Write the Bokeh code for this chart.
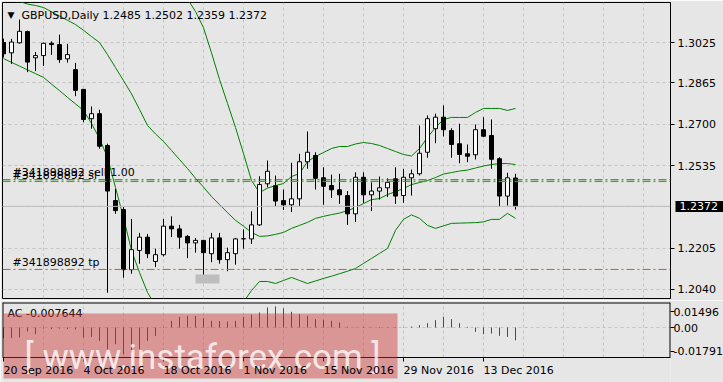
from bokeh.plotting import figure
from bokeh.layouts import column
from bokeh.models import (FixedTicker, Span, Label, ColumnDataSource, BoxAnnotation, LinearAxis)
from bokeh.core.properties import value
from bokeh.embed import file_html
from bokeh.resources import INLINE

# ---------------- data ----------------
symbol = "GBPUSD,Daily"
date_labels = ["20 Sep 2016", "4 Oct 2016", "18 Oct 2016", "1 Nov 2016",
               "15 Nov 2016", "29 Nov 2016", "13 Dec 2016"]
date_idx = [0, 10, 20, 30, 40, 50, 60]

opens = [1.3026, 1.2985, 1.3025, 1.3070, 1.2965, 1.2974, 1.3023, 1.3018, 1.2961, 1.2918,
         1.2839, 1.2722, 1.2742, 1.2615, 1.2395, 1.2359, 1.2119, 1.2196, 1.2249, 1.2152,
         1.2179, 1.2293, 1.2282, 1.2252, 1.2226, 1.2236, 1.2183, 1.2246, 1.2159, 1.2183,
         1.2242, 1.2242, 1.2298, 1.2462, 1.2454, 1.2395, 1.2378, 1.2402, 1.2550, 1.2575,
         1.2486, 1.2455, 1.2438, 1.2415, 1.2342, 1.2488, 1.2418, 1.2433, 1.2446, 1.2482,
         1.2415, 1.2486, 1.2502, 1.2588, 1.2682, 1.2728, 1.2675, 1.2622, 1.2582, 1.2578,
         1.2678, 1.2655, 1.2562, 1.2413, 1.2485]
highs = [1.3042, 1.3041, 1.3118, 1.3074, 1.2988, 1.3026, 1.3031, 1.3058, 1.3021, 1.2945,
         1.2840, 1.2771, 1.2758, 1.2622, 1.2442, 1.2369, 1.2322, 1.2266, 1.2262, 1.2203,
         1.2322, 1.2332, 1.2298, 1.2258, 1.2246, 1.2238, 1.2266, 1.2266, 1.2207, 1.2246,
         1.2280, 1.2352, 1.2492, 1.2555, 1.2495, 1.2439, 1.2546, 1.2582, 1.2671, 1.2588,
         1.2528, 1.2499, 1.2502, 1.2433, 1.2508, 1.2508, 1.2468, 1.2491, 1.2484, 1.2528,
         1.2522, 1.2519, 1.2695, 1.2735, 1.2742, 1.2775, 1.2684, 1.2702, 1.2619, 1.2699,
         1.2728, 1.2719, 1.2568, 1.2506, 1.2502]
lows = [1.2966, 1.2941, 1.3022, 1.2908, 1.2912, 1.2932, 1.2977, 1.2945, 1.2946, 1.2812,
        1.2708, 1.2682, 1.2602, 1.2027, 1.2342, 1.2087, 1.2103, 1.2143, 1.2165, 1.2129,
        1.2172, 1.2249, 1.2203, 1.2165, 1.2187, 1.2076, 1.2149, 1.2143, 1.2113, 1.2139,
        1.2203, 1.2222, 1.2294, 1.2448, 1.2373, 1.2358, 1.2349, 1.2373, 1.2522, 1.2439,
        1.2378, 1.2405, 1.2382, 1.2298, 1.2309, 1.2385, 1.2353, 1.2399, 1.2409, 1.2382,
        1.2386, 1.2415, 1.2495, 1.2566, 1.2624, 1.2651, 1.2566, 1.2544, 1.2548, 1.2559,
        1.2648, 1.2522, 1.2371, 1.2375, 1.2359]
closes = [1.2981, 1.3028, 1.3071, 1.2948, 1.2974, 1.3023, 1.3018, 1.2958, 1.2978, 1.2835,
          1.2719, 1.2742, 1.2612, 1.2433, 1.2355, 1.2119, 1.2199, 1.2249, 1.2183, 1.2179,
          1.2293, 1.2282, 1.2249, 1.2226, 1.2236, 1.2187, 1.2246, 1.2159, 1.2187, 1.2242,
          1.2243, 1.2298, 1.2459, 1.2512, 1.2393, 1.2378, 1.2402, 1.2550, 1.2588, 1.2484,
          1.2452, 1.2438, 1.2418, 1.2342, 1.2488, 1.2418, 1.2433, 1.2446, 1.2468, 1.2413,
          1.2488, 1.2502, 1.2584, 1.2722, 1.2728, 1.2678, 1.2619, 1.2579, 1.2572, 1.2678,
          1.2652, 1.2560, 1.2413, 1.2486, 1.2372]

bb_upper = [1.3450, 1.3449, 1.3448, 1.3443, 1.3446, 1.3445, 1.3438, 1.3430, 1.3423, 1.3415,
            1.3395, 1.3397, 1.3409, 1.3389, 1.3405, 1.3421, 1.3446, 1.3410, 1.3362, 1.3346,
            1.3312, 1.3255, 1.3220, 1.3200, 1.3150, 1.3085, 1.2985, 1.2879, 1.2783, 1.2687,
            1.2583, 1.2475, 1.2427, 1.2445, 1.2455, 1.2463, 1.2491, 1.2503, 1.2551, 1.2571,
            1.2587, 1.2603, 1.2611, 1.2611, 1.2621, 1.2627, 1.2623, 1.2615, 1.2603, 1.2591,
            1.2579, 1.2573, 1.2603, 1.2647, 1.2687, 1.2719, 1.2727, 1.2727, 1.2727, 1.2747,
            1.2763, 1.2763, 1.2763, 1.2755, 1.2763]
bb_middle = [1.3206, 1.3198, 1.3190, 1.3180, 1.3174, 1.3166, 1.3149, 1.3132, 1.3115, 1.3098,
             1.3075, 1.3050, 1.3026, 1.2978, 1.2926, 1.2874, 1.2821, 1.2759, 1.2695, 1.2661,
             1.2631, 1.2595, 1.2559, 1.2523, 1.2484, 1.2449, 1.2411, 1.2379, 1.2347, 1.2316,
             1.2293, 1.2268, 1.2252, 1.2254, 1.2260, 1.2268, 1.2284, 1.2296, 1.2308, 1.2324,
             1.2332, 1.2339, 1.2345, 1.2355, 1.2367, 1.2383, 1.2399, 1.2403, 1.2419, 1.2431,
             1.2443, 1.2459, 1.2467, 1.2475, 1.2487, 1.2501, 1.2507, 1.2513, 1.2517, 1.2525,
             1.2533, 1.2539, 1.2543, 1.2543, 1.2539]
bb_lower = [1.2962, 1.2947, 1.2932, 1.2917, 1.2902, 1.2887, 1.2860, 1.2834, 1.2807, 1.2781,
            1.2755, 1.2703, 1.2643, 1.2567, 1.2447, 1.2327, 1.2196, 1.2108, 1.2028, 1.1976,
            1.1950, 1.1935, 1.1925, 1.1920, 1.1920, 1.1925, 1.1935, 1.1945, 1.1960, 1.1975,
            1.1990, 1.2036, 1.2072, 1.2072, 1.2064, 1.2076, 1.2088, 1.2076, 1.2064, 1.2074,
            1.2084, 1.2093, 1.2103, 1.2113, 1.2124, 1.2144, 1.2164, 1.2184, 1.2204, 1.2276,
            1.2320, 1.2338, 1.2324, 1.2296, 1.2284, 1.2294, 1.2304, 1.2305, 1.2306, 1.2307,
            1.2310, 1.2320, 1.2320, 1.2344, 1.2324]

ac_values = [-0.0064, -0.0063, -0.0060, -0.0024, -0.0040, -0.0006, -0.0009, -0.0006, -0.0009, -0.0012,
             -0.0060, -0.0056, -0.0080, -0.0130, -0.0100, -0.0160, -0.0150, -0.0130, -0.0080, -0.0050,
             -0.0003, 0.0040, 0.0064, 0.0070, 0.0069, 0.0056, 0.0040, 0.0039, 0.0036, 0.0040,
             0.0064, 0.0076, 0.0090, 0.0120, 0.0126, 0.0115, 0.0094, 0.0080, 0.0070, 0.0050,
             0.0046, 0.0040, 0.0030, 0.0004, 0.0002, 0.0003, 0.0002, 0.0003, 0.0002, 0.0003,
             0.0002, 0.0006, 0.0014, 0.0026, 0.0044, 0.0064, 0.0050, 0.0026, 0.0004, -0.0026,
             -0.0040, -0.0036, -0.0050, -0.0056, -0.007644]

price_ticks = [1.3025, 1.2865, 1.2700, 1.2535, 1.2205, 1.2040]
grid_prices = [1.3025, 1.2865, 1.2700, 1.2535, 1.2370, 1.2205, 1.2040]
ac_max, ac_min = 0.01496, -0.01791

order_id = "#341898892"
sell_price, sl_price, tp_price = 1.2478, 1.2471, 1.2120
grey_box = dict(left=24.0, right=27.0, top=1.2100, bottom=1.2064)
watermark = "[  www.instaforex.com  ]"

# ---------------- style ----------------
BG = "#E6E6E6"
GRID = "#C4C4C4"
FONT = "DejaVu Sans"
GREEN = "#008000"
RED = "#FF0000"
ORD_RED = "#E8501E"
WM_FILL = "#CC3333"
WM_ALPHA = 0.45

x_lo, x_hi = -0.125, 83.375
y_lo, y_hi = 1.2004, 1.3186

n = len(closes)
idx = list(range(n))
vgrid = list(range(5, 84, 5))
txt = dict(text_font=FONT, text_font_size="11px", text_color="black")

# ================= main window =================
p1 = figure(frame_width=668, frame_height=296, x_range=(x_lo, x_hi), y_range=(y_lo, y_hi),
            y_axis_location="right", toolbar_location=None, output_backend="svg",
            min_border_left=2, min_border_right=53, min_border_top=2, min_border_bottom=2,
            background_fill_color=BG, border_fill_color=BG, outline_line_color="black")
p1.xaxis.visible = False
ax = p1.yaxis[0]
ax.ticker = FixedTicker(ticks=price_ticks)
ax.major_label_overrides = {t: f"{t:.4f}" for t in price_ticks}
ax.major_tick_out = 4
ax.major_tick_in = 0
ax.minor_tick_line_color = None
ax.axis_line_color = "black"
ax.major_label_standoff = 3
ax.major_label_text_font = FONT
ax.major_label_text_font_size = "11px"
ax.major_label_text_color = "black"

# last-price marker: black box with white price, drawn by a second right axis
last = closes[-1]
pax = LinearAxis(ticker=FixedTicker(ticks=[last]),
                 major_label_overrides={last: f"{last:.4f}"},
                 major_tick_in=43, major_tick_out=5, major_tick_line_width=11,
                 major_tick_line_color="black", major_tick_line_cap="butt",
                 minor_tick_line_color=None, axis_line_color=None,
                 major_label_standoff=-44, major_label_text_font=FONT,
                 major_label_text_font_size="11px", major_label_text_color="white")
p1.add_layout(pax, "right")

p1.ygrid.ticker = FixedTicker(ticks=grid_prices)
p1.xgrid.ticker = FixedTicker(ticks=vgrid)
for g in (p1.xgrid[0], p1.ygrid[0]):
    g.grid_line_color = GRID
    g.grid_line_dash = "3 3"

p1.add_layout(Span(location=last, dimension="width", line_color="#BDBDBD", line_width=1))
p1.add_layout(BoxAnnotation(fill_color="#BEBEBE", fill_alpha=1.0, line_color=None, **grey_box))

for price, col in ((sell_price, GREEN), (sl_price, ORD_RED), (tp_price, ORD_RED)):
    p1.add_layout(Span(location=price, dimension="width", line_color=col, line_width=1,
                       line_dash="8 3 2 3"))

p1.line(idx, bb_upper, line_color=GREEN, line_width=1)
p1.line(idx, bb_middle, line_color=GREEN, line_width=1)
p1.line(idx, bb_lower, line_color=GREEN, line_width=1)

src = ColumnDataSource(dict(
    x=idx, h=highs, l=lows,
    top=[max(o, c) for o, c in zip(opens, closes)],
    bottom=[min(o, c) for o, c in zip(opens, closes)],
    fill=["white" if c >= o else "black" for o, c in zip(opens, closes)]))
p1.segment(x0="x", y0="h", x1="x", y1="l", line_color="black", line_width=1, source=src)
p1.vbar(x="x", width=0.5, top="top", bottom="bottom", fill_color="fill",
        line_color="black", line_width=1, source=src)

p1.add_layout(Label(x=x_lo, y=y_hi, x_offset=5, y_offset=-12, text="\u25BC",
                    text_baseline="middle", text_font=FONT, text_font_size="9px", text_color="black"))
header = f"{symbol}  {opens[-1]:.4f} {highs[-1]:.4f} {lows[-1]:.4f} {closes[-1]:.4f}"
p1.add_layout(Label(x=x_lo, y=y_hi, x_offset=19, y_offset=-13, text=header,
                    text_baseline="middle", **txt))
p1.add_layout(Label(x=x_lo, y=sell_price, x_offset=10, y_offset=7, text=f"{order_id} sell 1.00",
                    text_baseline="middle", **txt))
p1.add_layout(Label(x=x_lo, y=sl_price, x_offset=10, y_offset=6, text=f"{order_id} sl",
                    text_baseline="middle", **txt))
p1.add_layout(Label(x=x_lo, y=tp_price, x_offset=10, y_offset=7, text=f"{order_id} tp",
                    text_baseline="middle", **txt))

# ================= AC sub-window + date scale (one frame) =================
px_ac = (ac_max - ac_min) / 55.0          # value per pixel in the AC window
y_bot = ac_min - 25 * px_ac               # frame extends below the window for the date scale
top_lab = ac_max - 9 * px_ac
bot_lab = ac_min + 6.5 * px_ac
p2 = figure(frame_width=668, frame_height=80, x_range=p1.x_range, y_range=(y_bot, ac_max),
            y_axis_location="right", toolbar_location=None, output_backend="svg",
            min_border_left=2, min_border_right=53, min_border_top=2, min_border_bottom=0,
            background_fill_color=BG, border_fill_color=BG, outline_line_color=None)
p2.xaxis.visible = False
p2.xgrid.visible = False
ay = p2.yaxis[0]
ay.ticker = FixedTicker(ticks=[top_lab, 0.0, bot_lab])
ay.major_label_overrides = {top_lab: f"{ac_max:.5f}", 0.0: "0.00", bot_lab: f"{ac_min:.5f}"}
ay.major_tick_out = 4
ay.major_tick_in = 0
ay.minor_tick_line_color = None
ay.axis_line_color = None
ay.major_label_standoff = -1
ay.major_label_text_font = FONT
ay.major_label_text_font_size = "11px"
ay.major_label_text_color = "black"

p2.ygrid.ticker = FixedTicker(ticks=[0.0])
p2.ygrid.grid_line_color = GRID
p2.ygrid.grid_line_dash = "3 3"
k = len(vgrid)
p2.segment(x0=vgrid, y0=[ac_min] * k, x1=vgrid, y1=[ac_max] * k,
           line_color=GRID, line_width=1, line_dash="3 3")

ac_colors = [RED] + [GREEN if ac_values[i] > ac_values[i - 1] else RED for i in range(1, n)]
p2.segment(x0=idx, y0=[0.0] * n, x1=idx, y1=ac_values, line_color=ac_colors, line_width=1)

# window border
p2.segment(x0=[x_lo, x_hi, x_lo, x_lo], y0=[ac_min, ac_min, ac_max, ac_min],
           x1=[x_lo, x_hi, x_hi, x_hi], y1=[ac_max, ac_max, ac_max, ac_min],
           line_color="black", line_width=[2, 2, 2, 1])

p2.add_layout(Label(x=x_lo, y=ac_max, x_offset=5, y_offset=-11, text=f"AC {ac_values[-1]:.6f}",
                    text_baseline="middle", **txt))

# date scale
m = len(date_idx)
p2.segment(x0=date_idx, y0=[ac_min] * m, x1=date_idx, y1=[ac_min - 4 * px_ac] * m,
           line_color="black", line_width=1)
dr = p2.text(x=date_idx, y=[ac_min - 6 * px_ac] * m, text=date_labels, text_align="left",
             text_baseline="top", text_font=value(FONT), text_font_size=value("11px"),
             text_color="black")
dr.level = "overlay"

# watermark
wm_left, wm_right = 0.0, 49.25
p2.add_layout(BoxAnnotation(left=wm_left, right=wm_right, top=ac_max - 11 * px_ac,
                            bottom=ac_min - 21 * px_ac,
                            fill_color=WM_FILL, fill_alpha=WM_ALPHA, line_color=None))
p2.add_layout(Label(x=wm_left, y=ac_min, x_offset=21, y_offset=0, text=watermark,
                    text_baseline="alphabetic", text_font="Roboto", text_font_size="35px",
                    text_color="white", text_alpha=0.8))

layout = column(p1, p2, spacing=0)
open("out.html", "w").write(file_html(layout, INLINE))
